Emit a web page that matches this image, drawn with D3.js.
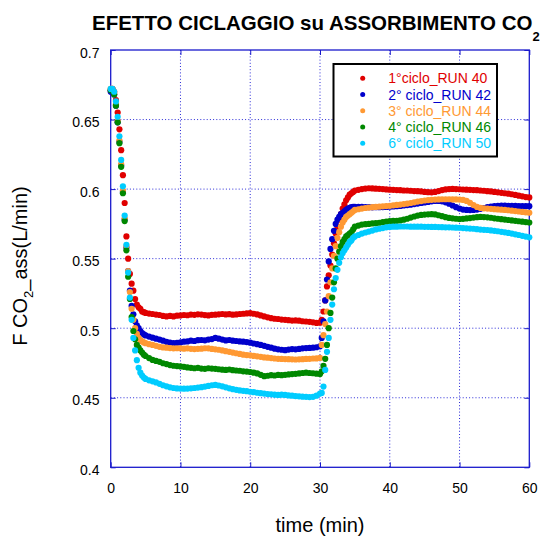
<!DOCTYPE html>
<html>
<head>
<meta charset="utf-8">
<script src="https://cdn.jsdelivr.net/npm/d3@7"></script>
<style>
  body { margin: 0; background: #fff; }
  svg { display: block; }
  text { font-family: "Liberation Sans", Arial, Helvetica, sans-serif; }
</style>
</head>
<body>
<svg id="chart" width="550" height="538"></svg>
<script>
// Sampling times (min)
const time = [
  0,0.25,0.5,0.75,1,1.25,1.5,1.75,2,2.25,2.5,2.75,3,3.25,3.5,3.75,4,4.25,4.5,4.75,5,
  5.5,6,6.5,7,7.5,8,8.5,9,9.5,10,
  10.5,11,11.5,12,12.5,13,13.5,14,14.5,15,
  15.5,16,16.5,17,17.5,18,18.5,19,19.5,20,
  20.5,21,21.5,22,22.5,23,23.5,24,24.5,25,
  25.5,26,26.5,27,27.5,28,28.5,29,29.5,30,
  30.25,30.5,30.75,31,31.25,31.5,31.75,32,32.25,32.5,32.75,33,33.25,33.5,33.75,34,34.25,34.5,34.75,35,
  35.5,36,36.5,37,37.5,38,38.5,39,39.5,40,
  40.5,41,41.5,42,42.5,43,43.5,44,44.5,45,
  45.5,46,46.5,47,47.5,48,48.5,49,49.5,50,
  50.5,51,51.5,52,52.5,53,53.5,54,54.5,55,
  55.5,56,56.5,57,57.5,58,58.5,59,59.5,60
];

// F CO2 absorbed (L/min), one array per cycle
const run40 = [
  0.671,0.672,0.670,0.664,0.655,0.643,0.628,0.610,0.590,0.566,0.550,0.539,0.532,0.527,0.521,0.517,0.515,0.514,0.512,0.5115,0.511,
  0.5105,0.5102,0.5098,0.5095,0.5088,0.5085,0.5088,0.5085,0.5090,0.5092,
  0.5095,0.5093,0.5098,0.5096,0.5100,0.5098,0.5094,0.5092,0.5096,0.5097,
  0.5100,0.5102,0.5099,0.5101,0.5097,0.5099,0.5102,0.5104,0.5106,0.5108,
  0.5104,0.5099,0.5092,0.5085,0.5078,0.5072,0.5068,0.5066,0.5062,0.5060,
  0.5058,0.5055,0.5056,0.5054,0.5050,0.5048,0.5046,0.5042,0.5038,0.5040,
  0.506,0.512,0.520,0.530,0.538,0.545,0.553,0.561,0.568,0.573,0.578,0.582,0.586,0.589,0.592,0.594,0.596,0.597,0.598,0.599,
  0.5995,0.6000,0.6004,0.6006,0.6005,0.6003,0.6002,0.6000,0.5998,0.5996,
  0.5995,0.5993,0.5992,0.5990,0.5990,0.5988,0.5986,0.5985,0.5983,0.5980,
  0.5978,0.5977,0.5980,0.5986,0.5993,0.5998,0.6000,0.6001,0.6000,0.5999,
  0.5997,0.5996,0.5995,0.5993,0.5992,0.5990,0.5988,0.5985,0.5983,0.5980,
  0.5977,0.5973,0.5970,0.5967,0.5963,0.5958,0.5953,0.5948,0.5943,0.5940
];
const run42 = [
  0.670,0.671,0.668,0.660,0.648,0.634,0.617,0.598,0.578,0.558,0.541,0.527,0.516,0.510,0.505,0.502,0.500,0.498,0.4965,0.4955,0.4948,
  0.4940,0.4932,0.4925,0.4918,0.4910,0.4902,0.4897,0.4893,0.4895,0.4898,
  0.4903,0.4905,0.4910,0.4908,0.4914,0.4915,0.4913,0.4918,0.4922,0.4930,
  0.4925,0.4918,0.4912,0.4915,0.4910,0.4908,0.4905,0.4903,0.4900,0.4896,
  0.4890,0.4885,0.4880,0.4873,0.4866,0.4860,0.4853,0.4848,0.4845,0.4842,
  0.4846,0.4850,0.4848,0.4851,0.4855,0.4857,0.4858,0.4860,0.4863,0.4870,
  0.493,0.505,0.520,0.535,0.548,0.557,0.564,0.570,0.575,0.578,0.580,0.582,0.583,0.584,0.585,0.586,0.5865,0.587,0.5872,0.5873,
  0.5873,0.5872,0.5870,0.5870,0.5869,0.5870,0.5870,0.5871,0.5872,0.5873,
  0.5875,0.5877,0.5879,0.5882,0.5885,0.5888,0.5892,0.5896,0.5900,0.5904,
  0.5908,0.5912,0.5915,0.5915,0.5912,0.5905,0.5895,0.5882,0.5870,0.5860,
  0.5853,0.5850,0.5849,0.5850,0.5853,0.5858,0.5864,0.5870,0.5875,0.5878,
  0.5880,0.5881,0.5881,0.5880,0.5880,0.5879,0.5878,0.5878,0.5877,0.5877
];
const run44 = [
  0.672,0.672,0.669,0.661,0.649,0.635,0.618,0.599,0.579,0.559,0.541,0.526,0.514,0.506,0.500,0.496,0.493,0.4915,0.4905,0.4898,0.4892,
  0.4885,0.4880,0.4873,0.4866,0.4862,0.4860,0.4857,0.4855,0.4856,0.4855,
  0.4853,0.4855,0.4852,0.4850,0.4852,0.4853,0.4856,0.4855,0.4851,0.4848,
  0.4845,0.4840,0.4835,0.4830,0.4825,0.4820,0.4815,0.4810,0.4807,0.4805,
  0.4801,0.4798,0.4794,0.4790,0.4788,0.4785,0.4782,0.4780,0.4779,0.4778,
  0.4777,0.4776,0.4775,0.4776,0.4777,0.4779,0.4780,0.4782,0.4783,0.4786,
  0.488,0.495,0.503,0.512,0.523,0.533,0.543,0.552,0.559,0.565,0.569,0.573,0.576,0.578,0.580,0.581,0.582,0.583,0.584,0.585,
  0.5855,0.5860,0.5864,0.5867,0.5870,0.5872,0.5874,0.5876,0.5878,0.5880,
  0.5883,0.5886,0.5889,0.5892,0.5896,0.5900,0.5905,0.5910,0.5914,0.5918,
  0.5921,0.5923,0.5925,0.5926,0.5927,0.5927,0.5927,0.5926,0.5926,0.5925,
  0.5922,0.5915,0.5902,0.5885,0.5872,0.5865,0.5862,0.5860,0.5858,0.5856,
  0.5854,0.5852,0.5850,0.5848,0.5845,0.5842,0.5839,0.5836,0.5833,0.5830
];
const run46 = [
  0.671,0.671,0.668,0.660,0.648,0.633,0.616,0.597,0.577,0.556,0.537,0.521,0.508,0.498,0.492,0.488,0.486,0.484,0.4825,0.481,0.480,
  0.4785,0.4772,0.4765,0.4758,0.4748,0.4742,0.4735,0.4730,0.4728,0.4725,
  0.4722,0.4718,0.4715,0.4712,0.4715,0.4710,0.4708,0.4712,0.4710,0.4708,
  0.4705,0.4702,0.4700,0.4703,0.4698,0.4696,0.4694,0.4690,0.4688,0.4685,
  0.4680,0.4675,0.4665,0.4655,0.4658,0.4662,0.4660,0.4664,0.4662,0.4665,
  0.4668,0.4670,0.4672,0.4675,0.4678,0.4680,0.4678,0.4676,0.4673,0.4670,
  0.469,0.473,0.478,0.488,0.500,0.511,0.522,0.533,0.543,0.550,0.555,0.559,0.562,0.564,0.566,0.567,0.568,0.569,0.571,0.573,
  0.5738,0.5745,0.5748,0.5750,0.5753,0.5755,0.5758,0.5762,0.5766,0.5770,
  0.5771,0.5772,0.5775,0.5780,0.5787,0.5795,0.5803,0.5810,0.5814,0.5817,
  0.5819,0.5820,0.5818,0.5812,0.5805,0.5798,0.5793,0.5790,0.5787,0.5785,
  0.5786,0.5789,0.5792,0.5795,0.5798,0.5800,0.5799,0.5797,0.5794,0.5790,
  0.5787,0.5784,0.5781,0.5778,0.5775,0.5772,0.5769,0.5766,0.5763,0.5760
];
const run50 = [
  0.672,0.672,0.670,0.663,0.652,0.638,0.621,0.602,0.581,0.560,0.540,0.522,0.506,0.493,0.484,0.477,0.4715,0.468,0.4660,0.4645,0.4635,
  0.4625,0.4618,0.4610,0.4600,0.4590,0.4582,0.4575,0.4570,0.4567,0.4566,
  0.4565,0.4566,0.4568,0.4570,0.4573,0.4576,0.4580,0.4585,0.4590,0.4592,
  0.4588,0.4582,0.4575,0.4568,0.4562,0.4557,0.4553,0.4550,0.4547,0.4543,
  0.4540,0.4536,0.4533,0.4530,0.4527,0.4525,0.4522,0.4520,0.4522,0.4520,
  0.4517,0.4515,0.4512,0.4510,0.4508,0.4507,0.4505,0.4507,0.4515,0.4530,
  0.4535,0.458,0.470,0.483,0.493,0.506,0.517,0.528,0.536,0.542,0.547,0.551,0.554,0.556,0.558,0.560,0.562,0.563,0.565,0.566,
  0.5670,0.5680,0.5688,0.5695,0.5702,0.5710,0.5715,0.5720,0.5725,0.5728,
  0.5730,0.5730,0.5731,0.5731,0.5731,0.5730,0.5730,0.5730,0.5730,0.5729,
  0.5729,0.5728,0.5728,0.5727,0.5726,0.5725,0.5725,0.5724,0.5723,0.5722,
  0.5720,0.5718,0.5716,0.5715,0.5712,0.5709,0.5707,0.5706,0.5703,0.5700,
  0.5697,0.5693,0.5689,0.5685,0.5680,0.5675,0.5670,0.5664,0.5659,0.5653
];

const seriesValues = [run40, run42, run44, run46, run50];
const seriesNames = ["1°ciclo_RUN 40", "2° ciclo_RUN 42", "3° ciclo_RUN 44", "4° ciclo_RUN 46", "6° ciclo_RUN 50"];
const seriesColors = ["#e00000", "#0000cc", "#ff9933", "#008800", "#00ccff"];

const xTicks = [0, 10, 20, 30, 40, 50, 60];
const yTicks = [0.4, 0.45, 0.5, 0.55, 0.6, 0.65, 0.7];
const yTickLabels = ["0.4", "0.45", "0.5", "0.55", "0.6", "0.65", "0.7"];

const frameBlue = "#1a1acc";
const plot = { left: 110.7, right: 529.3, top: 50, bottom: 467.3 };

const svg = d3.select("#chart");
const x = d3.scaleLinear().domain([0, 60]).range([plot.left, plot.right]);
const y = d3.scaleLinear().domain([0.4, 0.7]).range([plot.bottom, plot.top]);

// Dotted grid
const grid = svg.append("g")
  .attr("stroke", "#2a2ad8")
  .attr("stroke-width", 1)
  .attr("stroke-dasharray", "1,2.2");
grid.selectAll("line.gx")
  .data(xTicks.slice(1, -1))
  .join("line")
  .attr("class", "gx")
  .attr("x1", d => x(d)).attr("x2", d => x(d))
  .attr("y1", plot.top).attr("y2", plot.bottom);
grid.selectAll("line.gy")
  .data(yTicks.slice(1, -1))
  .join("line")
  .attr("class", "gy")
  .attr("y1", d => y(d)).attr("y2", d => y(d))
  .attr("x1", plot.left).attr("x2", plot.right);

// Axes with inward ticks on all four sides
function styleAxis(g) {
  g.select(".domain").remove();
  g.selectAll(".tick line").attr("stroke", frameBlue).attr("stroke-width", 1);
  g.selectAll(".tick text").attr("fill", "#000").attr("font-size", "14px")
    .attr("font-family", "'Liberation Sans', Arial, sans-serif");
}

svg.append("g")
  .attr("transform", `translate(0,${plot.bottom})`)
  .call(d3.axisBottom(x).tickValues(xTicks).tickSizeInner(-5).tickSizeOuter(0).tickPadding(15.8).tickFormat(d3.format("d")))
  .call(styleAxis);

svg.append("g")
  .attr("transform", `translate(0,${plot.top})`)
  .call(d3.axisTop(x).tickValues(xTicks).tickSizeInner(-5).tickSizeOuter(0).tickFormat(""))
  .call(styleAxis);

const leftAxis = svg.append("g")
  .attr("transform", `translate(${plot.left},0)`)
  .call(d3.axisLeft(y).tickValues(yTicks).tickSizeInner(-5).tickSizeOuter(0).tickPadding(11.2)
    .tickFormat((d, i) => yTickLabels[i]))
  .call(styleAxis);
leftAxis.selectAll(".tick text").attr("dy", "0.5em");

svg.append("g")
  .attr("transform", `translate(${plot.right},0)`)
  .call(d3.axisRight(y).tickValues(yTicks).tickSizeInner(-5).tickSizeOuter(0).tickFormat(""))
  .call(styleAxis);

// Plot frame
svg.append("rect")
  .attr("x", plot.left).attr("y", plot.top)
  .attr("width", plot.right - plot.left).attr("height", plot.bottom - plot.top)
  .attr("fill", "none").attr("stroke", frameBlue).attr("stroke-width", 1.3);

// Data points
seriesValues.forEach((vals, s) => {
  const n = Math.min(time.length, vals.length);
  const pts = d3.range(n).map(i => [time[i], vals[i]]);
  svg.append("g")
    .attr("fill", seriesColors[s])
    .selectAll("circle")
    .data(pts)
    .join("circle")
    .attr("cx", d => x(d[0]))
    .attr("cy", d => y(d[1]))
    .attr("r", 3.1);
});

// Legend
const legend = svg.append("g");
legend.append("rect")
  .attr("x", 333.5).attr("y", 64).attr("width", 163.5).attr("height", 92.5)
  .attr("fill", "#fff").attr("stroke", "#000").attr("stroke-width", 2);
seriesNames.forEach((name, i) => {
  const cy = 78.3 + i * 16.25;
  legend.append("circle").attr("cx", 362.7).attr("cy", cy).attr("r", 2.5).attr("fill", seriesColors[i]);
  legend.append("text").attr("x", 388.3).attr("y", cy + 5)
    .attr("font-size", "14px").attr("fill", seriesColors[i]).text(name);
});

// Title
const title = svg.append("text")
  .attr("x", 92).attr("y", 30)
  .attr("font-size", "20.5px").attr("font-weight", "bold").attr("fill", "#000");
title.append("tspan").text("EFETTO CICLAGGIO su ASSORBIMENTO CO");
title.append("tspan").attr("font-size", "13px").attr("dy", 11).text("2");

// Axis titles
svg.append("text")
  .attr("x", 320).attr("y", 532)
  .attr("text-anchor", "middle").attr("font-size", "20px").attr("fill", "#000")
  .text("time (min)");

const yTitle = svg.append("text")
  .attr("transform", "translate(27,266) rotate(-90)")
  .attr("text-anchor", "middle").attr("font-size", "20px").attr("fill", "#000");
yTitle.append("tspan").text("F CO");
yTitle.append("tspan").attr("font-size", "13px").attr("dy", 6).text("2");
yTitle.append("tspan").attr("dy", -6).text("_ass(L/min)");
</script>
</body>
</html>
